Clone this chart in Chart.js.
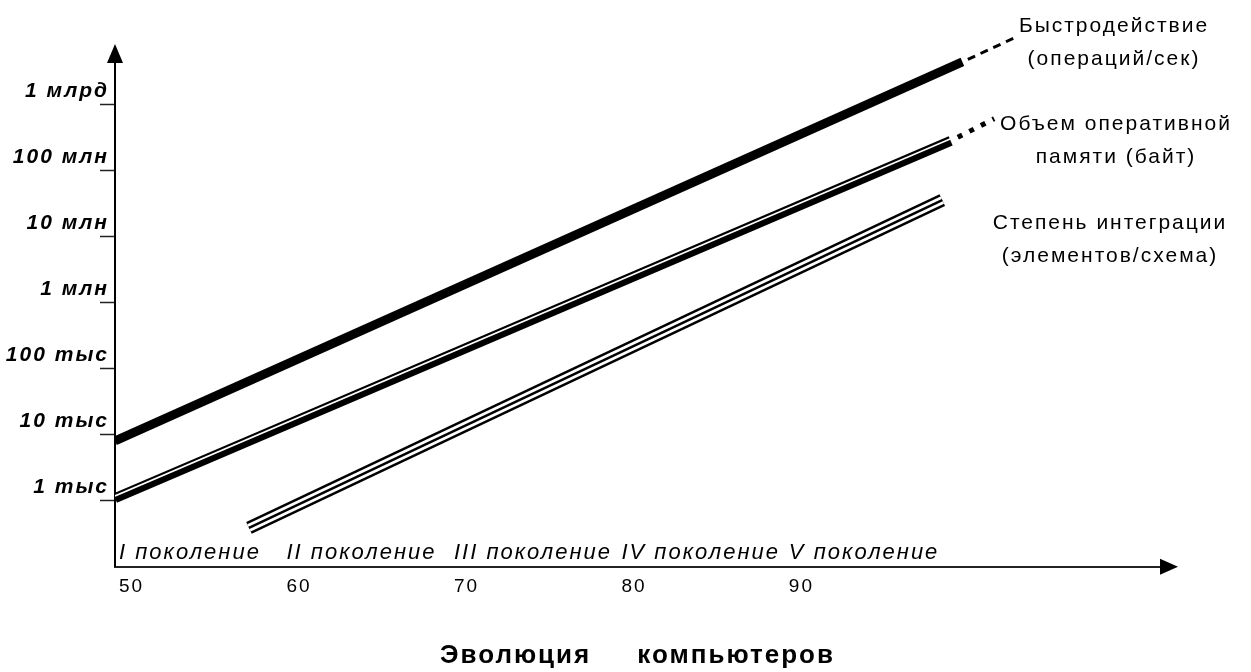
<!DOCTYPE html>
<html lang="ru">
<head>
<meta charset="utf-8">
<title>Эволюция компьютеров</title>
<script src="https://cdn.jsdelivr.net/npm/chart.js@4.4.1/dist/chart.umd.min.js"></script>
<style>
  html, body { margin: 0; padding: 0; background: #fff; }
  canvas { display: block; }
</style>
</head>
<body>
<canvas id="evoChart" width="1251" height="672"></canvas>
<script>
// === DATA ===
const yearTicks = [50, 60, 70, 80, 90];
const yearLabels = ["50", "60", "70", "80", "90"];
const valueTicks = [1e3, 1e4, 1e5, 1e6, 1e7, 1e8, 1e9];
const valueLabels = ["1 тыс", "10 тыс", "100 тыс", "1 млн", "10 млн", "100 млн", "1 млрд"];
const generations = ["I поколение", "II поколение", "III поколение", "IV поколение", "V поколение"];
const generationYears = [50, 60, 70, 80, 90];

const speedYears = [50, 100.6];
const speedValues = [8100, 4.5e9];
const speedForecastYears = [100.6, 103.7];
const speedForecastValues = [4.5e9, 1.04e10];

const memoryYears = [50, 99.9];
const memoryValues = [1100, 2.85e8];
const memoryForecastYears = [99.9, 102.5];
const memoryForecastValues = [2.85e8, 6.2e8];

const chipYears = [58, 99.4];
const chipValues = [390, 3.6e7];

const seriesNotes = [
  ["Быстродействие", "(операций/сек)"],
  ["Объем оперативной", "памяти (байт)"],
  ["Степень интеграции", "(элементов/схема)"]
];

// === HELPERS ===
const FONT = "'Liberation Sans', Arial, sans-serif";
Chart.defaults.font.family = FONT;

const points = (xs, ys) => xs.map((x, i) => ({ x: x, y: ys[i] }));
const line = (data, width, color, extra) => Object.assign({
  data: data,
  borderColor: color,
  borderWidth: width,
  pointRadius: 0,
  tension: 0,
  fill: false,
  clip: 0
}, extra || {});

// the original lettering is a little wide, so space the letters out
const wideText = {
  id: "wideText",
  beforeDraw(chart) { chart.ctx.letterSpacing = "2px"; }
};

// white stripe inside the memory line sits a bit above its centre
const stripeShift = {
  id: "stripeShift",
  beforeDatasetDraw(chart, args) {
    const dy = chart.data.datasets[args.index].shiftY;
    if (dy) { chart.ctx.save(); chart.ctx.translate(0, dy); }
  },
  afterDatasetDraw(chart, args) {
    if (chart.data.datasets[args.index].shiftY) chart.ctx.restore();
  }
};

// arrows, generation names and series notes
const decorations = {
  id: "decorations",
  afterDraw(chart) {
    const { ctx, chartArea: a, scales: { x } } = chart;
    ctx.save();
    ctx.fillStyle = "#000";

    ctx.beginPath();
    ctx.moveTo(a.left, a.top - 3);
    ctx.lineTo(a.left - 8, a.top + 16);
    ctx.lineTo(a.left + 8, a.top + 16);
    ctx.closePath();
    ctx.fill();

    ctx.beginPath();
    ctx.moveTo(a.right + 18, a.bottom);
    ctx.lineTo(a.right, a.bottom - 8);
    ctx.lineTo(a.right, a.bottom + 8);
    ctx.closePath();
    ctx.fill();

    ctx.font = "italic 22px " + FONT;
    ctx.textAlign = "left";
    ctx.textBaseline = "alphabetic";
    generations.forEach((g, i) => {
      ctx.fillText(g, x.getPixelForValue(generationYears[i]) + 4, a.bottom - 8);
    });

    ctx.font = "21px " + FONT;
    ctx.textAlign = "center";
    ctx.textBaseline = "middle";
    const spots = [[1114, 26], [1116, 124], [1110, 223]];
    seriesNotes.forEach((rows, i) => {
      rows.forEach((t, j) => ctx.fillText(t, spots[i][0], spots[i][1] + j * 33));
    });
    ctx.restore();
  }
};

// === CHART ===
const ctx = document.getElementById("evoChart").getContext("2d");
new Chart(ctx, {
  type: "line",
  data: {
    datasets: [
      line(points(speedYears, speedValues), 9, "#000", { order: 4 }),
      line(points(speedForecastYears, speedForecastValues), 3, "#000",
        { borderDash: [8, 6], borderDashOffset: 8, clip: false, order: 4 }),
      line(points(memoryYears, memoryValues), 10, "#000", { order: 4 }),
      line(points(memoryYears, memoryValues), 1.6, "#fff", { order: 1, shiftY: -2.2 }),
      line(points(memoryForecastYears, memoryForecastValues), 5, "#000",
        { borderDash: [5, 8], borderDashOffset: 5, clip: false, order: 4 }),
      line(points(chipYears, chipValues), 13, "#000", { order: 3 }),
      line(points(chipYears, chipValues), 8, "#fff", { order: 2 }),
      line(points(chipYears, chipValues), 2.5, "#000", { order: 1 })
    ]
  },
  options: {
    responsive: false,
    animation: false,
    events: [],
    devicePixelRatio: 1,
    layout: { padding: { top: 47, right: 0, left: 0, bottom: 0 } },
    plugins: {
      legend: { display: false },
      tooltip: { enabled: false },
      title: {
        display: true,
        fullSize: false,
        position: "bottom",
        text: "Эволюция     компьютеров",
        color: "#000",
        font: { size: 26, weight: "bold" },
        padding: { top: 0, bottom: 1 }
      }
    },
    scales: {
      x: {
        type: "linear",
        min: 50,
        max: 112.4,
        afterBuildTicks: s => { s.ticks = yearTicks.map(v => ({ value: v })); },
        afterFit: s => { s.height = 73; },
        grid: { display: false },
        border: { display: true, color: "#222", width: 2 },
        ticks: {
          autoSkip: false,
          align: "start",
          labelOffset: 4,
          padding: 1,
          maxRotation: 0,
          color: "#000",
          font: { size: 19 },
          callback: (v, i) => yearLabels[i]
        }
      },
      y: {
        type: "logarithmic",
        min: 100,
        max: 7.57e9,
        afterBuildTicks: s => { s.ticks = valueTicks.map(v => ({ value: v })); },
        afterFit: s => { s.width = 115; },
        grid: { drawOnChartArea: false, drawTicks: true, tickLength: 15, tickWidth: 1.5, tickColor: "#222" },
        border: { display: true, color: "#000", width: 2 },
        ticks: {
          autoSkip: false,
          padding: -9,
          labelOffset: -14,
          color: "#000",
          font: { size: 21, style: "italic", weight: "bold" },
          callback: (v, i) => valueLabels[i]
        }
      },
      // empty room on the right for the arrow and the notes
      yRoom: {
        type: "linear",
        position: "right",
        afterFit: s => { s.width = 91; },
        grid: { display: false },
        border: { display: false },
        ticks: { display: false }
      }
    }
  },
  plugins: [wideText, stripeShift, decorations]
});
</script>
</body>
</html>
